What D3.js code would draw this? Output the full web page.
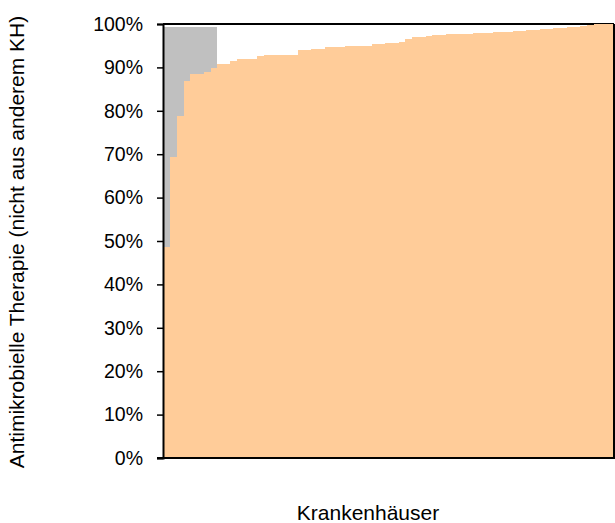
<!DOCTYPE html>
<html><head><meta charset="utf-8">
<script src="https://cdn.jsdelivr.net/npm/d3@7/dist/d3.min.js"></script>
<style>body{margin:0;background:#fff}svg{display:block}text{font-family:"Liberation Sans",Arial,sans-serif;fill:#000}</style>
</head><body>
<svg id="c" width="615" height="523"></svg>
<script>
// Hospitals, sorted ascending by share of antimicrobial therapy (not from other hospital)
const hospitals = d3.range(1, 68).map(i => "KH" + i);
const therapyShare = [
  48.7, 69.4, 78.8, 86.9, 88.5, 88.5, 89.0, 89.9, 90.8, 90.8,
  91.5, 91.9, 91.9, 91.9, 92.6, 92.95, 92.95, 92.95, 92.95, 92.95,
  93.9, 93.9, 94.3, 94.3, 94.6, 94.6, 94.6, 94.9, 95.0, 95.0,
  95.0, 95.3, 95.3, 95.6, 95.6, 95.85, 96.5, 96.9, 97.0, 97.2,
  97.4, 97.5, 97.6, 97.7, 97.7, 97.8, 97.9, 98.0, 98.0, 98.1,
  98.2, 98.2, 98.3, 98.5, 98.6, 98.7, 98.8, 98.9, 99.0, 99.1,
  99.3, 99.4, 99.6, 99.8, 100, 100, 100
];
const grayShare = [
  50.7, 30.0, 20.6, 12.5, 10.9, 10.9, 10.4, 9.5, 0, 0
].concat(d3.range(57).map(() => 0));
const yTicks = [0, 10, 20, 30, 40, 50, 60, 70, 80, 90, 100];
const yTitle = "Antimikrobielle Therapie (nicht aus anderem KH)";
const xTitle = "Krankenhäuser";

const svg = d3.select("#c");
const m = {left: 163, right: 614, top: 24, bottom: 458};
const x = d3.scaleBand().domain(hospitals).range([m.left, m.right]).padding(0);
const y = d3.scaleLinear().domain([0, 100]).range([m.bottom, m.top]);

// top border line
svg.append("line").attr("x1", m.left).attr("x2", m.right).attr("y1", m.top).attr("y2", m.top)
  .attr("stroke", "#000").attr("stroke-width", 2);

const data = hospitals.map((h, i) => ({h, v: therapyShare[i], g: grayShare[i]}));
svg.append("g").selectAll("rect.o").data(data).join("rect")
  .attr("x", d => x(d.h)).attr("width", x.bandwidth() + 0.5)
  .attr("y", d => y(d.v)).attr("height", d => y(0) - y(d.v))
  .attr("fill", "#FFCC99").attr("shape-rendering", "crispEdges");
svg.append("g").selectAll("rect.g").data(data.filter(d => d.g > 0)).join("rect")
  .attr("x", d => x(d.h)).attr("width", x.bandwidth() + 0.5)
  .attr("y", d => y(d.v + d.g)).attr("height", d => y(d.v) - y(d.v + d.g))
  .attr("fill", "#C0C0C0").attr("shape-rendering", "crispEdges");

// right border
svg.append("line").attr("x1", m.right).attr("x2", m.right).attr("y1", m.top).attr("y2", m.bottom)
  .attr("stroke", "#000").attr("stroke-width", 2);

// y axis
const ya = svg.append("g").attr("transform", `translate(${m.left},0)`)
  .call(d3.axisLeft(y).tickValues(yTicks).tickFormat(d => d + "%").tickSizeOuter(0).tickSize(6).tickPadding(14));
ya.select(".domain").attr("stroke", "#000").attr("stroke-width", 2);
ya.selectAll(".tick line").attr("stroke", "#000").attr("stroke-width", 1.5);
ya.selectAll(".tick text").attr("font-size", 19.5).attr("font-family", "Liberation Sans, Arial, sans-serif").attr("fill", "#000");

// x axis line
svg.append("line").attr("x1", m.left - 6).attr("x2", m.right + 1).attr("y1", m.bottom).attr("y2", m.bottom)
  .attr("stroke", "#000").attr("stroke-width", 2);

svg.append("text").attr("transform", `translate(24,242) rotate(-90)`)
  .attr("text-anchor", "middle").attr("font-size", 21).text(yTitle);
svg.append("text").attr("x", 368).attr("y", 520).attr("text-anchor", "middle").attr("font-size", 21).text(xTitle);
</script>
</body></html>
